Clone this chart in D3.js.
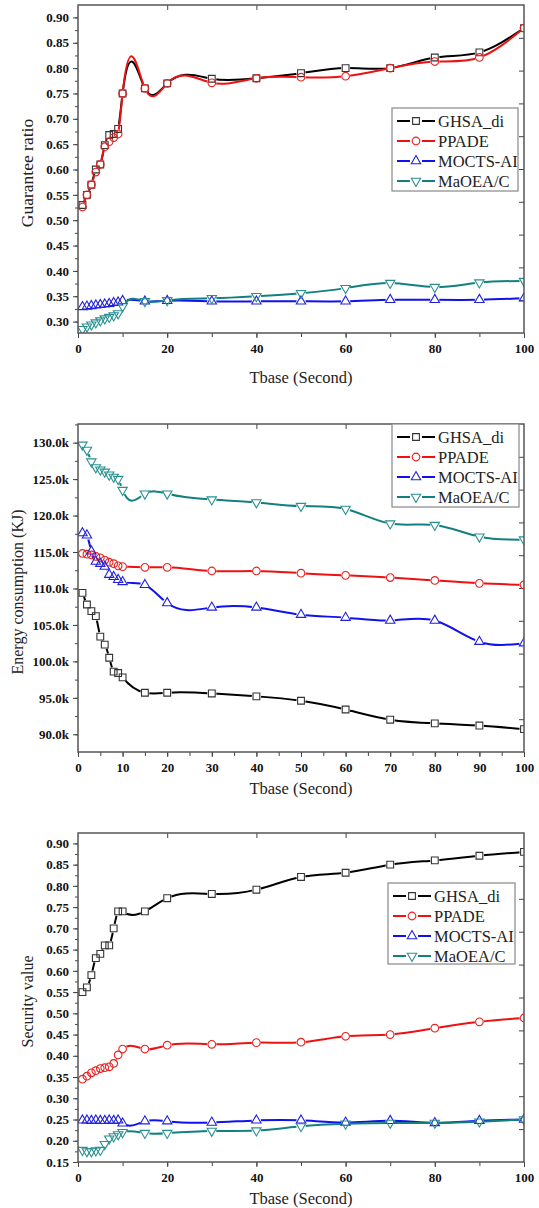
<!DOCTYPE html>
<head>
  <meta charset="utf-8">
  <title>Tbase comparison</title>
  <style>
    body { margin: 0; background: #fff; }
    text { font-family: "Liberation Serif", "Times New Roman", serif; }
  </style>
</head>

<body>
  <script src="https://d3js.org/d3.v7.min.js"></script>
  <script>
  // x values (Tbase, seconds)
  const tbase = [1, 2, 3, 4, 5, 6, 7, 8, 9, 10, 15, 20, 30, 40, 50, 60, 70, 80, 90, 100];
  const names = ["GHSA_di", "PPADE", "MOCTS-AI", "MaOEA/C"];

  // guarantee ratio
  const grGHSA  = [0.530, 0.550, 0.570, 0.600, 0.610, 0.648, 0.668, 0.670, 0.680, 0.750, 0.760, 0.770, 0.779, 0.780, 0.790, 0.800, 0.800, 0.821, 0.831, 0.879];
  const grPPADE = [0.526, 0.550, 0.570, 0.595, 0.610, 0.645, 0.655, 0.663, 0.670, 0.750, 0.760, 0.770, 0.771, 0.780, 0.782, 0.784, 0.800, 0.813, 0.821, 0.879];
  const grMOCTS = [0.329, 0.330, 0.331, 0.332, 0.333, 0.334, 0.335, 0.337, 0.338, 0.341, 0.340, 0.341, 0.340, 0.340, 0.340, 0.340, 0.343, 0.343, 0.343, 0.346];
  const grMaOEA = [0.285, 0.290, 0.294, 0.298, 0.302, 0.306, 0.309, 0.312, 0.316, 0.330, 0.340, 0.342, 0.346, 0.350, 0.356, 0.366, 0.376, 0.368, 0.377, 0.380];

  // energy consumption (k KJ)
  const ecGHSA  = [109.4, 107.8, 106.9, 106.2, 103.4, 102.3, 100.5, 98.6, 98.4, 97.8, 95.7, 95.7, 95.6, 95.2, 94.6, 93.4, 92.0, 91.5, 91.2, 90.7];
  const ecPPADE = [114.8, 114.7, 114.6, 114.4, 114.2, 113.9, 113.6, 113.4, 113.1, 113.0, 112.9, 112.9, 112.4, 112.4, 112.1, 111.8, 111.5, 111.1, 110.7, 110.5];
  const ecMOCTS = [117.6, 117.3, 115.1, 113.7, 113.4, 113.0, 111.9, 111.6, 111.2, 110.9, 110.5, 108.0, 107.4, 107.4, 106.4, 106.0, 105.6, 105.6, 102.7, 102.5];
  const ecMaOEA = [129.7, 129.0, 127.4, 126.6, 126.3, 126.0, 125.6, 125.3, 125.0, 123.5, 123.0, 123.0, 122.2, 121.8, 121.3, 120.9, 118.9, 118.7, 117.1, 116.7];

  // security value
  const svGHSA  = [0.550, 0.561, 0.590, 0.630, 0.640, 0.660, 0.660, 0.700, 0.740, 0.740, 0.740, 0.771, 0.781, 0.791, 0.821, 0.831, 0.850, 0.860, 0.871, 0.880];
  const svPPADE = [0.345, 0.352, 0.360, 0.365, 0.370, 0.372, 0.374, 0.382, 0.402, 0.416, 0.416, 0.425, 0.427, 0.431, 0.432, 0.446, 0.450, 0.465, 0.480, 0.489];
  const svMOCTS = [0.248, 0.248, 0.247, 0.248, 0.247, 0.247, 0.248, 0.247, 0.248, 0.241, 0.246, 0.246, 0.243, 0.248, 0.248, 0.243, 0.247, 0.242, 0.247, 0.250];
  const svMaOEA = [0.178, 0.175, 0.175, 0.177, 0.178, 0.192, 0.205, 0.210, 0.215, 0.220, 0.218, 0.218, 0.223, 0.224, 0.234, 0.240, 0.242, 0.242, 0.245, 0.250];

  const lineColors = ["#000000", "#ee1111", "#1111ee", "#128080"];
  const markColors = ["#333333", "#e82222", "#2222dd", "#2a9090"];
  const symbols = [d3.symbolSquare, d3.symbolCircle, d3.symbolTriangle, d3.symbolTriangle];
  const symSize = [46, 46, 38, 38];

  const W = 539, H = 1208;
  const left = 78, right = 524;
  const serif = '"Liberation Serif", "Times New Roman", serif';

  const panels = [
    { top: 5, bottom: 333, dom: [0.2775, 0.9245], major: 0.05, minor: 0.025, fmt: d3.format(".2f"),
      xMajor: 20, xMinor: 10, label: "Guarantee ratio", labelX: 27, labelSize: 17.5, titleGap: 44,
      series: [grGHSA, grPPADE, grMOCTS, grMaOEA], legend: [392, 108, 126, 83] },
    { top: 424, bottom: 752, dom: [87.57, 132.56], major: 5, minor: 2.5, fmt: d => d.toFixed(1) + "k",
      xMajor: 10, xMinor: 5, label: "Energy consumption (KJ)", labelX: 17, labelSize: 16, titleGap: 36,
      series: [ecGHSA, ecPPADE, ecMOCTS, ecMaOEA], legend: [392, 424, 127, 83] },
    { top: 833, bottom: 1162, dom: [0.15, 0.9245], major: 0.05, minor: 0.025, fmt: d3.format(".2f"),
      xMajor: 20, xMinor: 10, label: "Security value", labelX: 27, labelSize: 16, titleGap: 36,
      series: [svGHSA, svPPADE, svMOCTS, svMaOEA], legend: [388, 883, 127, 81] }
  ];

  // natural cubic spline of y as a function of x (like Origin's spline connect)
  function curveNaturalX(context) {
    let pts;
    return {
      areaStart() {}, areaEnd() {},
      lineStart() { pts = []; },
      point(px, py) { pts.push([+px, +py]); },
      lineEnd() {
        const n = pts.length;
        if (!n) return;
        context.moveTo(pts[0][0], pts[0][1]);
        if (n < 3) { for (let i = 1; i < n; i++) context.lineTo(pts[i][0], pts[i][1]); return; }
        const h = [], M = new Array(n).fill(0);
        for (let i = 0; i < n - 1; i++) h[i] = pts[i + 1][0] - pts[i][0];
        const a = [], b = [], c = [], d = [];
        for (let i = 1; i < n - 1; i++) {
          a[i] = h[i - 1]; b[i] = 2 * (h[i - 1] + h[i]); c[i] = h[i];
          d[i] = 6 * ((pts[i + 1][1] - pts[i][1]) / h[i] - (pts[i][1] - pts[i - 1][1]) / h[i - 1]);
        }
        for (let i = 2; i < n - 1; i++) {
          const w = a[i] / b[i - 1];
          b[i] -= w * c[i - 1];
          d[i] -= w * d[i - 1];
        }
        M[n - 2] = d[n - 2] / b[n - 2];
        for (let i = n - 3; i >= 1; i--) M[i] = (d[i] - c[i] * M[i + 1]) / b[i];
        for (let i = 0; i < n - 1; i++) {
          const [x0, y0] = pts[i], [x1, y1] = pts[i + 1], hi = h[i], s = (y1 - y0) / hi;
          const m0 = s - hi * (2 * M[i] + M[i + 1]) / 6;
          const m1 = s + hi * (M[i] + 2 * M[i + 1]) / 6;
          context.bezierCurveTo(x0 + hi / 3, y0 + m0 * hi / 3, x1 - hi / 3, y1 - m1 * hi / 3, x1, y1);
        }
      }
    };
  }

  const svg = d3.select("body").append("svg")
    .attr("width", W)
    .attr("height", H);

  const x = d3.scaleLinear().domain([0, 100]).range([left, right]);

  function symPath(i) {
    return d3.symbol().type(symbols[i]).size(symSize[i])();
  }
  function symTransform(i, px, py) {
    // MaOEA/C uses a downward triangle
    return `translate(${px},${py})` + (i === 3 ? " rotate(180)" : "");
  }
  function styleAxis(a) {
    a.select(".domain").remove();
    a.attr("font-family", serif).attr("font-size", 13).attr("font-weight", "bold");
    a.selectAll("line").attr("stroke", "#444");
    a.selectAll("text").attr("fill", "#111");
  }

  panels.forEach((p, pi) => {
    const y = d3.scaleLinear().domain(p.dom).range([p.bottom, p.top]);
    const g = svg.append("g");

    const clipId = "clip" + pi;
    svg.append("clipPath").attr("id", clipId)
      .append("rect")
      .attr("x", left).attr("y", p.top)
      .attr("width", right - left).attr("height", p.bottom - p.top);

    const yMinorTicks = d3.range(Math.ceil(p.dom[0] / p.minor) * p.minor, p.dom[1], p.minor);
    const yMajorTicks = d3.range(Math.ceil((p.dom[0] - 1e-9) / p.major) * p.major, p.dom[1], p.major);

    g.append("g")
      .attr("transform", `translate(${left},0)`)
      .call(d3.axisLeft(y).tickValues(yMinorTicks).tickSize(3).tickFormat(""))
      .call(styleAxis);
    g.append("g")
      .attr("transform", `translate(${left},0)`)
      .call(d3.axisLeft(y).tickValues(yMajorTicks).tickSize(5).tickPadding(4).tickFormat(p.fmt))
      .call(styleAxis);

    const xMinorTicks = d3.range(0, 100.1, p.xMinor);
    const xMajorTicks = d3.range(0, 100.1, p.xMajor);
    g.append("g")
      .attr("transform", `translate(0,${p.bottom})`)
      .call(d3.axisBottom(x).tickValues(xMinorTicks).tickSize(4).tickFormat(""))
      .call(styleAxis);
    g.append("g")
      .attr("transform", `translate(0,${p.bottom})`)
      .call(d3.axisBottom(x).tickValues(xMajorTicks).tickSize(5).tickPadding(6).tickFormat(d3.format("d")))
      .call(styleAxis);

    // top axis ticks (inward)
    g.append("g")
      .attr("transform", `translate(0,${p.top})`)
      .call(d3.axisBottom(x).tickValues([20, 40, 60, 80]).tickSize(5).tickFormat(""))
      .call(styleAxis);

    // right axis ticks (inward), an unlabeled secondary scale
    const yr = d3.scaleLinear().domain([0, 10]).range([p.bottom, p.top]);
    g.append("g")
      .attr("transform", `translate(${right},0)`)
      .call(d3.axisLeft(yr).tickValues(d3.range(1, 10)).tickSize(5).tickFormat(""))
      .call(styleAxis);

    // data
    const plot = g.append("g").attr("clip-path", `url(#${clipId})`);
    p.series.forEach((vals, si) => {
      const pts = tbase.map((t, k) => [x(t), y(vals[k])]);
      const maskId = `m${pi}_${si}`;
      const mask = svg.append("mask").attr("id", maskId)
        .attr("maskUnits", "userSpaceOnUse")
        .attr("x", 0).attr("y", 0).attr("width", W).attr("height", H);
      mask.append("rect").attr("width", W).attr("height", H).attr("fill", "#fff");
      mask.selectAll("circle").data(pts).enter().append("circle")
        .attr("cx", d => d[0]).attr("cy", d => d[1]).attr("r", 4.6).attr("fill", "#000");

      plot.append("path")
        .attr("d", d3.line().curve(curveNaturalX)(pts))
        .attr("fill", "none")
        .attr("stroke", lineColors[si])
        .attr("stroke-width", 2)
        .attr("mask", `url(#${maskId})`);

      plot.selectAll(null).data(pts).enter().append("path")
        .attr("d", symPath(si))
        .attr("transform", d => symTransform(si, d[0], d[1]))
        .attr("fill", "none")
        .attr("stroke", markColors[si])
        .attr("stroke-width", 1.1);
    });

    // frame
    g.append("rect")
      .attr("x", left).attr("y", p.top)
      .attr("width", right - left).attr("height", p.bottom - p.top)
      .attr("fill", "none").attr("stroke", "#555").attr("stroke-width", 1.5);

    // axis titles
    g.append("text")
      .attr("x", (left + right) / 2).attr("y", p.bottom + p.titleGap)
      .attr("text-anchor", "middle").attr("dominant-baseline", "central")
      .attr("font-size", 16.5).attr("fill", "#222")
      .text("Tbase (Second)");
    g.append("text")
      .attr("transform", `translate(${p.labelX},${(p.top + p.bottom) / 2 + 4}) rotate(-90)`)
      .attr("text-anchor", "middle").attr("dominant-baseline", "central")
      .attr("font-size", p.labelSize).attr("fill", "#222")
      .text(p.label);

    // legend
    const [lx, ly, lw, lh] = p.legend;
    const lg = g.append("g");
    lg.append("rect").attr("x", lx).attr("y", ly).attr("width", lw).attr("height", lh)
      .attr("fill", "#fff").attr("stroke", "#888").attr("stroke-width", 1.2);
    names.forEach((n, si) => {
      const cy = ly + 13 + si * 20;
      lg.append("line").attr("x1", lx + 5).attr("x2", lx + 18).attr("y1", cy).attr("y2", cy)
        .attr("stroke", lineColors[si]).attr("stroke-width", 2);
      lg.append("line").attr("x1", lx + 30).attr("x2", lx + 43).attr("y1", cy).attr("y2", cy)
        .attr("stroke", lineColors[si]).attr("stroke-width", 2);
      lg.append("path").attr("d", symPath(si))
        .attr("transform", symTransform(si, lx + 24, cy))
        .attr("fill", "none").attr("stroke", markColors[si]).attr("stroke-width", 1.1);
      lg.append("text").attr("x", lx + 46).attr("y", cy)
        .attr("dominant-baseline", "central")
        .attr("font-size", 16.5).attr("fill", "#222")
        .text(n);
    });
  });
  </script>
</body>
</html>
